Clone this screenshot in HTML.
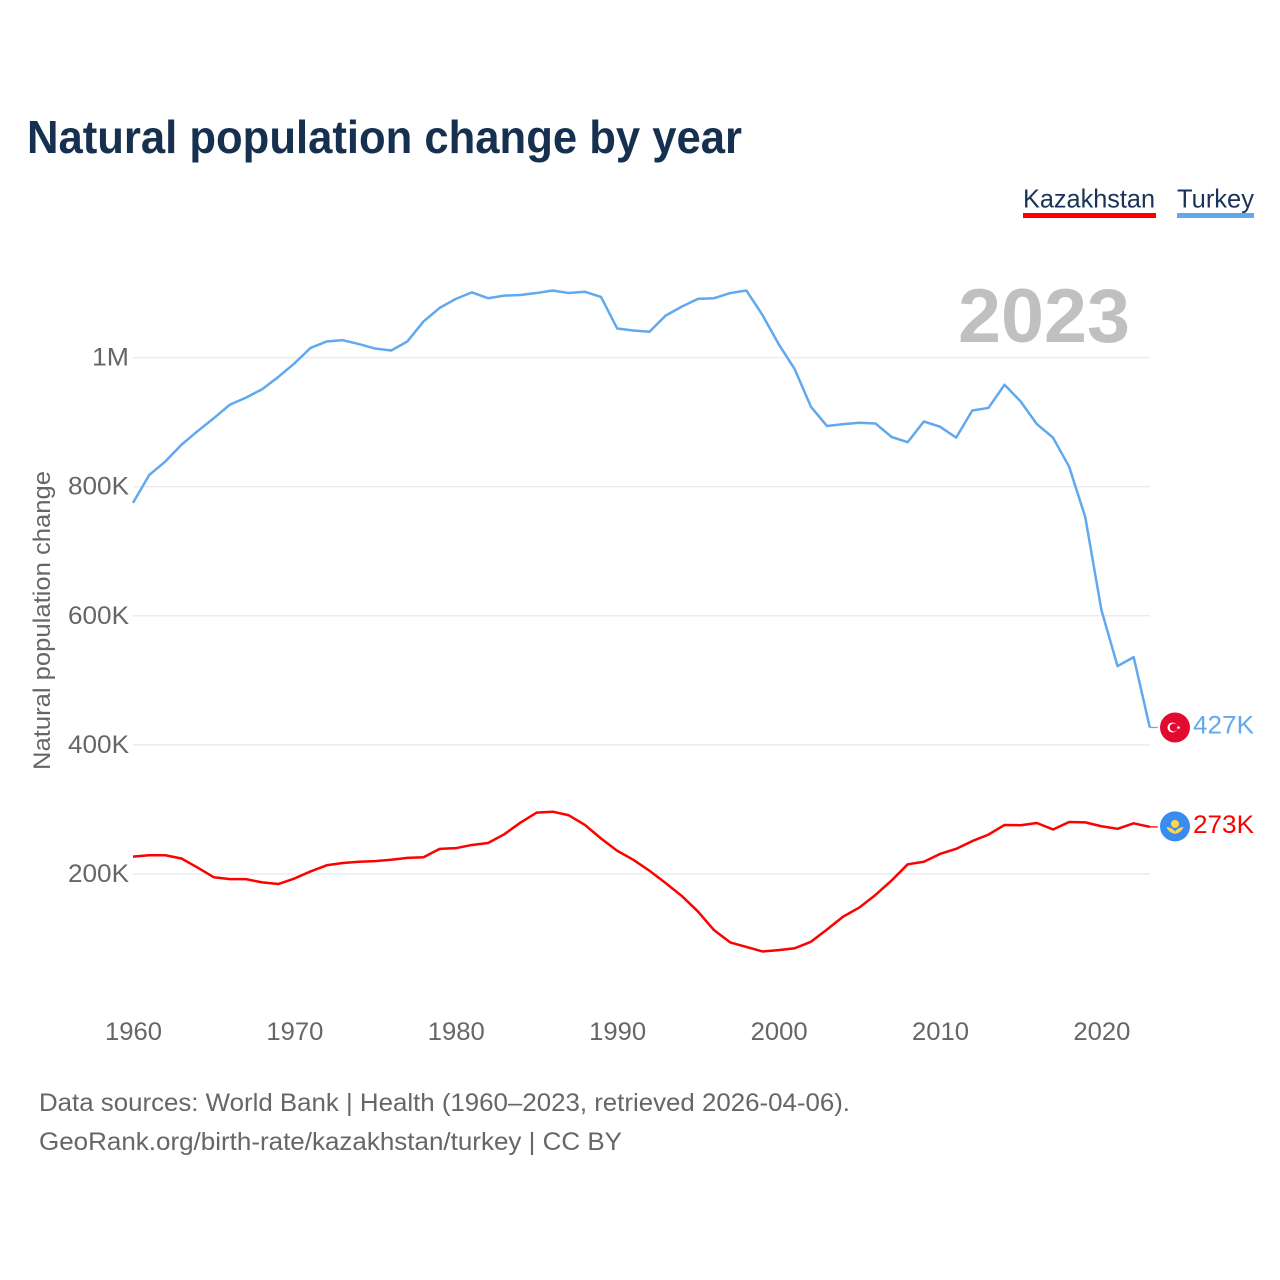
<!DOCTYPE html>
<html lang="en">
<head>
<meta charset="utf-8">
<title>Natural population change by year</title>
<style>
html,body{margin:0;padding:0;background:#fff;}
#wrap{position:relative;width:1280px;height:1280px;overflow:hidden;background:#fff;}
svg{display:block;position:absolute;left:0;top:0;}
text{font-family:"Liberation Sans",Arial,sans-serif;}
</style>
</head>
<body>
<div id="wrap">
<svg id="chart" xmlns="http://www.w3.org/2000/svg" width="1280" height="1280" viewBox="0 0 1280 1280">
  <text x="27" y="153" font-size="46" font-weight="700" fill="#16304f" textLength="715" lengthAdjust="spacingAndGlyphs">Natural population change by year</text>

  <g>
    <g>
      <text x="1023" y="207.5" font-size="26" fill="#1b3358" textLength="132" lengthAdjust="spacingAndGlyphs">Kazakhstan</text>
      <rect x="1023" y="213" width="133" height="5" fill="#ff0000"/>
    </g>
    <g>
      <text x="1177" y="207.5" font-size="26" fill="#1b3358" textLength="77" lengthAdjust="spacingAndGlyphs">Turkey</text>
      <rect x="1177" y="213" width="77" height="5" fill="#62a8ee"/>
    </g>
  </g>

  <g id="grid"></g>
  <g id="yticks"></g>
  <g id="xticks"></g>

  <text x="958" y="342" font-size="76" font-weight="700" fill="#c0c0c0" textLength="172" lengthAdjust="spacingAndGlyphs">2023</text>

  <text transform="translate(50,620.5) rotate(-90)" text-anchor="middle" font-size="24" fill="#666666" textLength="299" lengthAdjust="spacingAndGlyphs">Natural population change</text>

  <g id="series"></g>

  <g id="flag-turkey">
    <circle cx="0" cy="0" r="15" fill="#e30a2f"/>
    <circle cx="-2.5" cy="0" r="5" fill="#ffffff"/>
    <circle cx="-1.3" cy="0" r="4" fill="#e30a2f"/>
    <polygon points="3.5,-2 4,-0.6 5.6,-0.6 4.4,0.3 4.8,1.8 3.5,0.9 2.2,1.8 2.6,0.3 1.4,-0.6 3,-0.6" fill="#ffffff"/>
  </g>
  <g id="flag-kazakhstan">
    <circle cx="0" cy="0" r="15" fill="#3a8bf0"/>
    <circle cx="0" cy="-2.5" r="4" fill="#ffd54a"/>
    <path d="M-8.5,0.5 Q-4,1 -1.5,3.5 L0,5.2 L1.5,3.5 Q4,1 8.5,0.5 Q6.5,6.5 0,7.5 Q-6.5,6.5 -8.5,0.5 Z" fill="#ffd54a"/>
  </g>

  <g>
    <text x="39" y="1111" font-size="25" fill="#666666" textLength="811" lengthAdjust="spacingAndGlyphs">Data sources: World Bank | Health (1960–2023, retrieved 2026-04-06).</text>
    <text x="39" y="1150" font-size="25" fill="#666666" textLength="583" lengthAdjust="spacingAndGlyphs">GeoRank.org/birth-rate/kazakhstan/turkey | CC BY</text>
  </g>
</svg>
</div>
<script>
const years = [1960,1961,1962,1963,1964,1965,1966,1967,1968,1969,1970,1971,1972,1973,1974,1975,1976,1977,1978,1979,1980,1981,1982,1983,1984,1985,1986,1987,1988,1989,1990,1991,1992,1993,1994,1995,1996,1997,1998,1999,2000,2001,2002,2003,2004,2005,2006,2007,2008,2009,2010,2011,2012,2013,2014,2015,2016,2017,2018,2019,2020,2021,2022,2023];
const turkeyValues = [775,818,839,865,886,906,927,938,951,970,991,1015,1025,1027,1021,1014,1011,1025,1056,1077,1091,1101,1092,1096,1097,1100,1104,1100,1102,1094,1045,1042,1040,1065,1079,1091,1092,1100,1104,1066,1021,982,924,894,897,899,898,877,869,901,893,876,918,922,958,932,897,876,831,753,609,522,536,427];
const kazakhstanValues = [227,229,229,224,210,195,192,192,187,184.5,193,204,213.5,217,219,220,222,225,226,239,240,245,248,261.5,279.5,295,296.5,291,276,255,236,222,205,186,166,142,113,94,87,80,82,85,95,114,134,148,167.5,190,215,219,231,239,251,261,276,275.5,279,269,280.5,280,274,270,278.5,273];
const yTickValues = [200,400,600,800,1000];
const yTickLabels = ['200K','400K','600K','800K','1M'];
const xTickValues = [1960,1970,1980,1990,2000,2010,2020];
const endLabelTurkey = '427K';
const endLabelKazakhstan = '273K';

const NS = 'http://www.w3.org/2000/svg';
function xScale(year){ return 133 + (year - 1960) * 16.14; }
function yScale(v){ return 874 - (v - 200) * 0.6455; }

function makeText(parent, str, x, y, anchor, fill, len){
  const t = document.createElementNS(NS, 'text');
  t.setAttribute('x', x);
  t.setAttribute('y', y);
  t.setAttribute('text-anchor', anchor);
  t.setAttribute('font-size', '25');
  t.setAttribute('fill', fill);
  t.setAttribute('textLength', len);
  t.setAttribute('lengthAdjust', 'spacingAndGlyphs');
  t.textContent = str;
  parent.appendChild(t);
  return t;
}

const gridG = document.getElementById('grid');
const yG = document.getElementById('yticks');
yTickValues.forEach(function(v, i){
  const ln = document.createElementNS(NS, 'line');
  
  
  ln.setAttribute('x1', xScale(1960));
  ln.setAttribute('x2', xScale(2023));
  ln.setAttribute('y1', yScale(v));
  ln.setAttribute('y2', yScale(v));
  ln.setAttribute('stroke', '#ececec');
  ln.setAttribute('stroke-width', '1.5');
  gridG.appendChild(ln);
  const label = yTickLabels[i];
  const lab = makeText(yG, label, 129, yScale(v) + 8, 'end', '#666666', label.length === 2 ? 37 : 61);
  
  
});

const xG = document.getElementById('xticks');
xTickValues.forEach(function(y){
  const lab = makeText(xG, String(y), xScale(y) + 0.5, 1040, 'middle', '#666666', 57);
  
  
});

function linePath(values){
  return values.map(function(v, i){
    return (i ? 'L' : 'M') + xScale(years[i]).toFixed(2) + ',' + yScale(v).toFixed(2);
  }).join(' ');
}
const seriesG = document.getElementById('series');

const turkeyLine = document.createElementNS(NS, 'path');


turkeyLine.setAttribute('d', linePath(turkeyValues));
turkeyLine.setAttribute('fill', 'none');
turkeyLine.setAttribute('stroke', '#62a8ee');
turkeyLine.setAttribute('stroke-width', '2.5');
turkeyLine.setAttribute('stroke-linejoin', 'round');
seriesG.appendChild(turkeyLine);

const kazakhstanLine = document.createElementNS(NS, 'path');


kazakhstanLine.setAttribute('d', linePath(kazakhstanValues));
kazakhstanLine.setAttribute('fill', 'none');
kazakhstanLine.setAttribute('stroke', '#ff0000');
kazakhstanLine.setAttribute('stroke-width', '2.5');
kazakhstanLine.setAttribute('stroke-linejoin', 'round');
seriesG.appendChild(kazakhstanLine);

const lastIndex = years.length - 1;
const turkeyEndY = yScale(turkeyValues[lastIndex]);
const kazakhstanEndY = yScale(kazakhstanValues[lastIndex]);

const turkeyLeader = document.createElementNS(NS, 'line');


turkeyLeader.setAttribute('x1', xScale(2023));
turkeyLeader.setAttribute('x2', xScale(2023) + 8);
turkeyLeader.setAttribute('y1', turkeyEndY);
turkeyLeader.setAttribute('y2', turkeyEndY);
turkeyLeader.setAttribute('stroke', '#62a8ee');
turkeyLeader.setAttribute('stroke-width', '1.3');
seriesG.appendChild(turkeyLeader);

const kazakhstanLeader = document.createElementNS(NS, 'line');


kazakhstanLeader.setAttribute('x1', xScale(2023));
kazakhstanLeader.setAttribute('x2', xScale(2023) + 8);
kazakhstanLeader.setAttribute('y1', kazakhstanEndY);
kazakhstanLeader.setAttribute('y2', kazakhstanEndY);
kazakhstanLeader.setAttribute('stroke', '#ff0000');
kazakhstanLeader.setAttribute('stroke-width', '1.3');
seriesG.appendChild(kazakhstanLeader);

document.getElementById('flag-turkey').setAttribute('transform', 'translate(1175,' + turkeyEndY + ')');
document.getElementById('flag-kazakhstan').setAttribute('transform', 'translate(1175,' + (kazakhstanEndY - 0.5) + ')');

const turkeyEndLabel = makeText(seriesG, endLabelTurkey, 1193, turkeyEndY + 6, 'start', '#62a8ee', 61);



const kazakhstanEndLabel = makeText(seriesG, endLabelKazakhstan, 1193, kazakhstanEndY + 6, 'start', '#ff0000', 61);


</script>
</body>
</html>
